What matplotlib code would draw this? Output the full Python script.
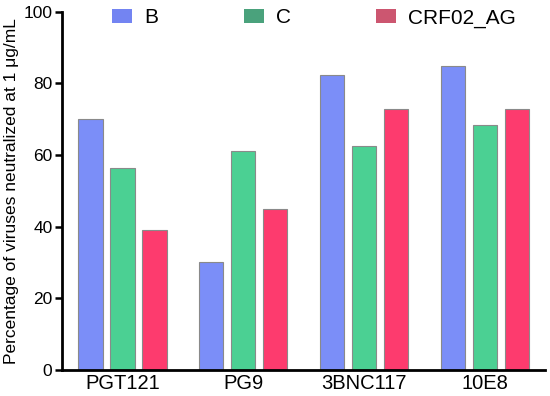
import numpy as np
import matplotlib.pyplot as plt

plt.rcParams["font.family"] = ["Liberation Sans", "DejaVu Sans"]

antibodies = ["PGT121", "PG9", "3BNC117", "10E8"]
subtypes = ["B", "C", "CRF02_AG"]
pct_B = [70, 30, 82.5, 85]
pct_C = [56.5, 61, 62.5, 68.5]
pct_AG = [39, 45, 73, 73]

colors = ["#7b8ef8", "#4bd093", "#fd3b6e"]
legend_colors = ["#7384f2", "#4aa27c", "#cc5670"]

fig = plt.figure(figsize=(5.5, 3.96), dpi=100)
ax = fig.add_axes([0.113, 0.066, 0.878, 0.904])

x = np.arange(len(antibodies))
w = 0.2
off = 0.265
for i, (vals, c) in enumerate(zip([pct_B, pct_C, pct_AG], colors)):
    ax.bar(x + (i - 1) * off, vals, width=w, color=c, edgecolor="#8a8a8a",
           linewidth=0.8, label=subtypes[i])

ax.set_xlim(-0.5, 3.5)
ax.set_ylim(0, 100)
ax.set_yticks([0, 20, 40, 60, 80, 100])
ax.set_xticks(x)
ax.set_xticklabels(antibodies, fontsize=14.5)
ax.tick_params(axis="y", labelsize=12.5, width=1.8, length=5, pad=2)
ax.tick_params(axis="x", length=0, pad=3)
for s in ["top", "right"]:
    ax.spines[s].set_visible(False)
for s in ["left", "bottom"]:
    ax.spines[s].set_linewidth(2)
ax.set_ylabel("Percentage of viruses neutralized at 1 \u03bcg/mL", fontsize=12.5, labelpad=3)

leg = ax.legend(loc="center left", bbox_to_anchor=(0.1035, 0.983), ncol=3, frameon=False,
                fontsize=15, handlelength=0.96, handleheight=0.7, columnspacing=4.1,
                handletextpad=0.58, borderpad=0, borderaxespad=0)
for h, c in zip(leg.legend_handles, legend_colors):
    h.set_facecolor(c)
    h.set_edgecolor("none")

fig.savefig("out.png", dpi=100)
